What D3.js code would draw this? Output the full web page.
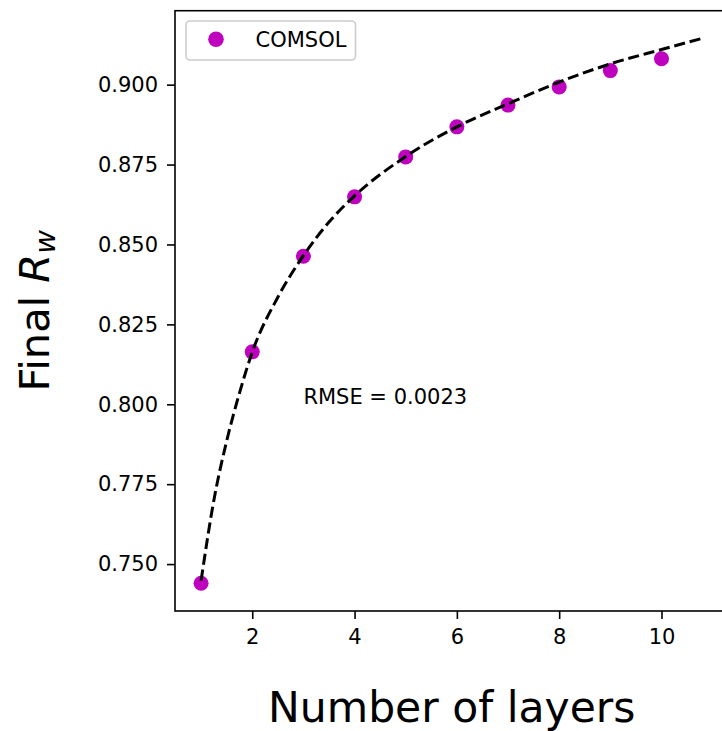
<!DOCTYPE html>
<html>
<head>
<meta charset="utf-8">
<script src="https://cdn.jsdelivr.net/npm/d3@7"></script>
<style>
  html, body { margin: 0; padding: 0; background: #fff; }
  svg { display: block; font-family: "DejaVu Sans", sans-serif; }
</style>
</head>
<body>
<svg id="chart" width="722" height="731"></svg>
<script>
// COMSOL simulation results: final R_w versus number of layers
const layers = [1, 2, 3, 4, 5, 6, 7, 8, 9, 10];
const finalRw = [0.7440, 0.8164, 0.8463, 0.8649, 0.8774, 0.8868, 0.8936, 0.8993, 0.9044, 0.9081];

// Fitted trend curve (dashed), sampled along the number of layers
const fitX = [1, 1.25, 1.5, 1.75, 2, 2.5, 3, 3.5, 4, 5, 6, 7, 8, 9, 10, 10.8];
const fitY = [0.7448, 0.7700, 0.7885, 0.8035, 0.8163, 0.8335, 0.8465, 0.8570, 0.8652, 0.8775, 0.8868, 0.8940, 0.9008, 0.9065, 0.9110, 0.9145];

const xTicks = [2, 4, 6, 8, 10];
const yTicks = [0.750, 0.775, 0.800, 0.825, 0.850, 0.875, 0.900];

const rmseLabel = "RMSE = 0.0023";
const legendLabel = "COMSOL";

const svg = d3.select("#chart");
const plot = { left: 175, right: 728.5, top: 10.7, bottom: 611 };

const x = d3.scaleLinear().domain([0.49, 11.31]).range([plot.left, plot.right]);
const y = d3.scaleLinear().domain([0.73532, 0.92314]).range([plot.bottom, plot.top]);

const magenta = "#bf00bf";
const tickFont = 21;

// Axes
const xAxis = svg.append("g")
  .attr("transform", `translate(0,${plot.bottom})`)
  .call(d3.axisBottom(x).tickValues(xTicks).tickFormat(d3.format("d")).tickSize(8).tickPadding(10.5));
const yAxis = svg.append("g")
  .attr("transform", `translate(${plot.left},0)`)
  .call(d3.axisLeft(y).tickValues(yTicks).tickFormat(d3.format(".3f")).tickSize(8).tickPadding(9));

[xAxis, yAxis].forEach(g => {
  g.select(".domain").remove();
  g.selectAll(".tick line").attr("stroke", "#000").attr("stroke-width", 1.6);
  g.selectAll(".tick text")
    .attr("fill", "#000")
    .style("font-family", "DejaVu Sans")
    .style("font-size", tickFont + "px");
});

// Frame (spines)
svg.append("rect")
  .attr("x", plot.left).attr("y", plot.top)
  .attr("width", plot.right - plot.left).attr("height", plot.bottom - plot.top)
  .attr("fill", "none").attr("stroke", "#000").attr("stroke-width", 1.6);

svg.append("clipPath").attr("id", "plotclip")
  .append("rect")
  .attr("x", plot.left).attr("y", plot.top)
  .attr("width", plot.right - plot.left).attr("height", plot.bottom - plot.top);

// Data points
svg.append("g").attr("clip-path", "url(#plotclip)")
  .selectAll("circle")
  .data(layers.map((l, i) => [l, finalRw[i]]))
  .join("circle")
  .attr("cx", d => x(d[0]))
  .attr("cy", d => y(d[1]))
  .attr("r", 7.5)
  .attr("fill", magenta);

// Fitted dashed curve
const line = d3.line()
  .x(d => x(d[0]))
  .y(d => y(d[1]))
  .curve(d3.curveMonotoneX);
svg.append("path")
  .datum(fitX.map((v, i) => [v, fitY[i]]))
  .attr("d", line)
  .attr("fill", "none")
  .attr("stroke", "#000")
  .attr("stroke-width", 3)
  .attr("stroke-dasharray", "11.1,4.8");

// RMSE annotation, anchored in data coordinates
svg.append("text")
  .attr("x", x(3))
  .attr("y", y(0.800))
  .attr("fill", "#000")
  .style("font-size", "21px")
  .text(rmseLabel);

// Legend
const legend = svg.append("g");
legend.append("rect")
  .attr("x", 186).attr("y", 21)
  .attr("width", 169.5).attr("height", 39)
  .attr("rx", 4).attr("ry", 4)
  .attr("fill", "#fff").attr("fill-opacity", 0.8)
  .attr("stroke", "#cccccc").attr("stroke-width", 1.6);
legend.append("circle")
  .attr("cx", 216).attr("cy", 39.3).attr("r", 7.8)
  .attr("fill", magenta);
legend.append("text")
  .attr("x", 255.5).attr("y", 46.5)
  .attr("fill", "#000")
  .style("font-size", "21px")
  .text(legendLabel);

// Axis titles
svg.append("text")
  .attr("x", (plot.left + plot.right) / 2)
  .attr("y", 722)
  .attr("text-anchor", "middle")
  .attr("fill", "#000")
  .style("font-size", "42.5px")
  .text("Number of layers");

const ylab = svg.append("text")
  .attr("transform", `translate(49,${(plot.top + plot.bottom) / 2}) rotate(-90)`)
  .attr("text-anchor", "middle")
  .attr("fill", "#000")
  .style("font-size", "41.5px");
ylab.append("tspan").text("Final ");
ylab.append("tspan").style("font-style", "italic").text("R");
ylab.append("tspan").attr("dy", "0.22em").style("font-style", "italic").style("font-size", "29px").text("w");
</script>
</body>
</html>
